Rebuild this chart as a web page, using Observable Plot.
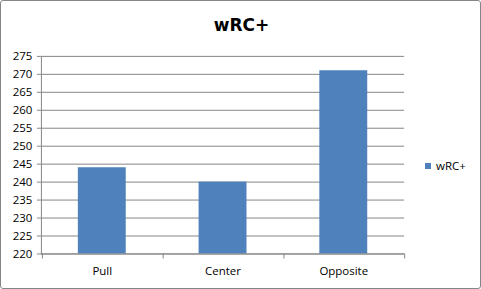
<!DOCTYPE html>
<html>
<head>
<meta charset="utf-8">
<script src="https://cdn.jsdelivr.net/npm/d3@7"></script>
<script src="https://cdn.jsdelivr.net/npm/@observablehq/plot@0.6"></script>
<style>
  html, body { margin: 0; padding: 0; background: #fff; }
  #wrap { position: relative; width: 481px; height: 289px; box-sizing: border-box; border: 1px solid #868686; border-radius: 3px; overflow: hidden; background: #fff; }
  #chart { position: absolute; left: -1px; top: -1px; }
  #title { position: absolute; left: 0; width: 481px; top: 14px; text-align: center; font: bold 17px "DejaVu Sans", sans-serif; color: #000; }
  #legend { position: absolute; left: 424px; top: 157px; font: 11.5px "Open Sans", sans-serif; color: #000; display: flex; align-items: center; }
  #legend .sw { width: 6px; height: 6px; background: #4F81BD; margin-right: 5px; }
</style>
</head>
<body>
<div id="wrap">
  <div id="chart"></div>
  <div id="title">wRC+</div>
  <div id="legend"><span class="sw"></span><span>wRC+</span></div>
</div>
<script>
const categories = ["Pull", "Center", "Opposite"];
const values = [244, 240, 271];
const yTicks = [220, 225, 230, 235, 240, 245, 250, 255, 260, 265, 270, 275];
const seriesName = "wRC+";

const data = categories.map((c, i) => ({category: c, value: values[i]}));
const axisColor = "#868686";

// custom mark: category boundary ticks on the x axis
function boundaryTicks(index, scales, channels, dimensions) {
  const x = scales.x;
  const dom = categories;
  const bw = x.bandwidth ? x.bandwidth() : 0;
  const step = x.step ? x.step() : (x(dom[1]) - x(dom[0]));
  const gap = step - bw;
  const y0 = dimensions.height - dimensions.marginBottom;
  const g = d3.create("svg:g");
  const xs = dom.map(d => x(d) - gap / 2);
  xs.push(x(dom[dom.length - 1]) + bw + gap / 2);
  for (const xv of xs) {
    g.append("line")
      .attr("x1", Math.round(xv) + 0.5).attr("x2", Math.round(xv) + 0.5)
      .attr("y1", y0).attr("y2", y0 + 5)
      .attr("stroke", axisColor);
  }
  return g.node();
}

const chart = Plot.plot({
  width: 481,
  height: 289,
  marginLeft: 41,
  marginRight: 76,
  marginTop: 56,
  marginBottom: 35,
  style: {fontFamily: "'Open Sans', sans-serif", fontSize: "11.5px", color: "#000", background: "transparent"},
  x: {domain: categories, paddingInner: 0.6, paddingOuter: 0.3, label: null},
  y: {domain: [220, 275], label: null},
  marks: [
    Plot.gridY(yTicks, {stroke: axisColor, strokeOpacity: 1}),
    Plot.barY(data, {x: "category", y1: 220, y2: "value", fill: "#4F81BD"}),
    Plot.ruleY([220], {stroke: axisColor}),
    Plot.frame({anchor: "left", stroke: axisColor}),
    Plot.axisY(yTicks, {tickSize: 4, tickPadding: 5, stroke: axisColor, fill: "#000", label: null, tickFormat: d => String(d)}),
    Plot.axisX({tickSize: 0, tickPadding: 13, fill: "#000", label: null}),
    boundaryTicks
  ]
});
document.getElementById("chart").appendChild(chart);
</script>
</body>
</html>
